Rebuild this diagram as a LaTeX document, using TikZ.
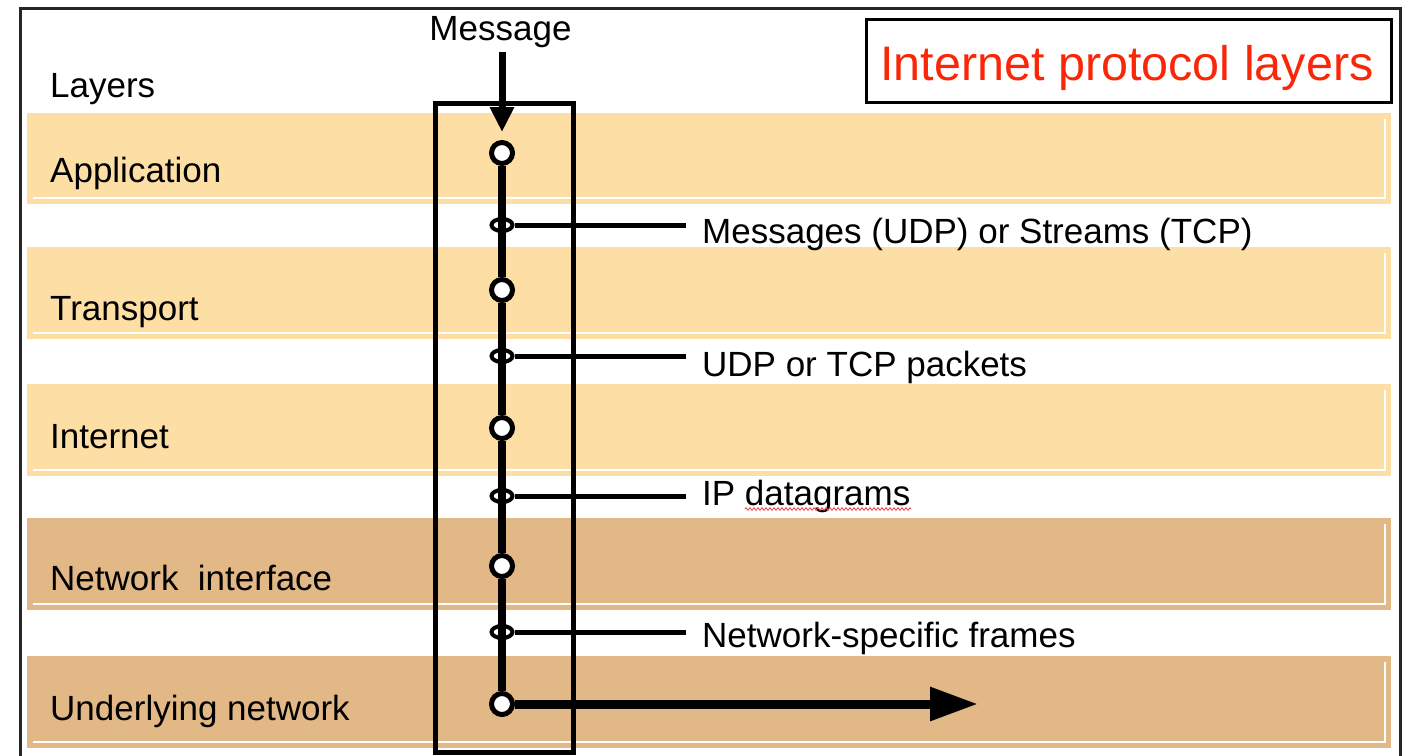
\documentclass[tikz,border=0pt]{standalone}
\usepackage{fontspec}
\setmainfont{Liberation Sans}
\usetikzlibrary{arrows.meta,shapes.geometric,decorations.pathmorphing}
\definecolor{bandlight}{RGB}{253,223,165}
\definecolor{banddark}{RGB}{226,184,134}
\definecolor{titlered}{RGB}{250,38,8}
\definecolor{spellred}{RGB}{238,80,80}

\begin{document}
\begin{tikzpicture}[x=1pt,y=-1pt,
  every node/.style={inner sep=0pt},
  bodyfont/.style={font=\fontsize{35}{42}\selectfont},
  layername/.style={bodyfont, anchor=base west},
  unitlabel/.style={bodyfont, anchor=base west, inner xsep=16pt},
  stage/.style={circle, draw, fill=white, line width=5pt, minimum size=21pt},
  junction/.style={ellipse, draw, line width=4pt, minimum width=21pt, minimum height=12pt},
  branch/.style={line width=5pt},
  spine/.style={line width=7.5pt},
  bandedge/.style={white, line width=1.5pt},
]
\clip (0,0) rectangle (1408,755);

% layer bands with their light inner edge
\foreach \t/\b/\c in {113/204/bandlight, 247/339/bandlight, 384/476/bandlight,
                      518/610/banddark, 656/748/banddark} {
  \fill[\c] (27,\t) rectangle (1391,\b);
  \draw[bandedge] (33,\b-6) -- (1385,\b-6) -- (1385,\t+6);
}

% outer frame
\draw[line width=3pt, black!85] (20,770) -- (20,8) -- (1400,8) -- (1400,770);

% title
\node[draw, line width=3pt, minimum width=525pt, minimum height=83pt] (tbox) at (1128.5,60.5) {};
\node[anchor=base west, font=\fontsize{48.5}{58}\selectfont, text=titlered] (title) at (880,80) {Internet protocol layers};

% layer names
\node[layername] (lay) at (50,97) {Layers};
\node[layername] (app) at (50,182) {Application};
\node[layername] (tra) at (50,320) {Transport};
\node[layername] (int) at (50,448) {Internet};
\node[layername] (net) at (50,590) {Network~~interface};
\node[layername] (und) at (50,720) {Underlying network};

% protocol stack box
\node[draw, line width=5pt, minimum width=138pt, minimum height=649pt] (stack) at (504,427.5) {};

% stage points and junctions
\node[stage] (c1) at (502,153) {};
\node[stage] (c2) at (502,290) {};
\node[stage] (c3) at (502,428) {};
\node[stage] (c4) at (502,566) {};
\node[stage] (c5) at (502,704) {};
\node[junction] (j1) at (502,225) {};
\node[junction] (j2) at (502,356) {};
\node[junction] (j3) at (502,496) {};
\node[junction] (j4) at (502,632) {};

\draw[spine] (c1) -- (c2) (c2) -- (c3) (c3) -- (c4) (c4) -- (c5);

% data units passed between layers
\node[unitlabel] (u1) at (686,243) {Messages (UDP) or Streams (TCP)};
\node[unitlabel] (u2) at (686,376) {UDP or TCP packets};
\node[unitlabel] (u3) at (686,505) {IP datagrams};
\node[unitlabel] (u4) at (686,647) {Network-specific frames};
\draw[branch] (j1) -- (j1 -| u1.west);
\draw[branch] (j2) -- (j2 -| u2.west);
\draw[branch] (j3) -- (j3 -| u3.west);
\draw[branch] (j4) -- (j4 -| u4.west);

% spell-check underline
\draw[spellred, line width=0.9pt, decorate, decoration={zigzag, amplitude=1.3pt, segment length=4pt}]
  (745,509) -- (911,509);

% incoming message and outgoing signal
\node[bodyfont, anchor=base] (msg) at (500.5,40) {Message};
\draw[line width=7pt, -{Triangle[length=25pt,width=23pt]}, shorten <=5pt, shorten >=8pt]
  (c1 |- msg.south) -- (c1.north);
\coordinate (sink) at (978,704);
\draw[line width=9pt, -{Triangle[length=48pt,width=32pt]}] (c5) -- (sink);
\end{tikzpicture}
\end{document}
